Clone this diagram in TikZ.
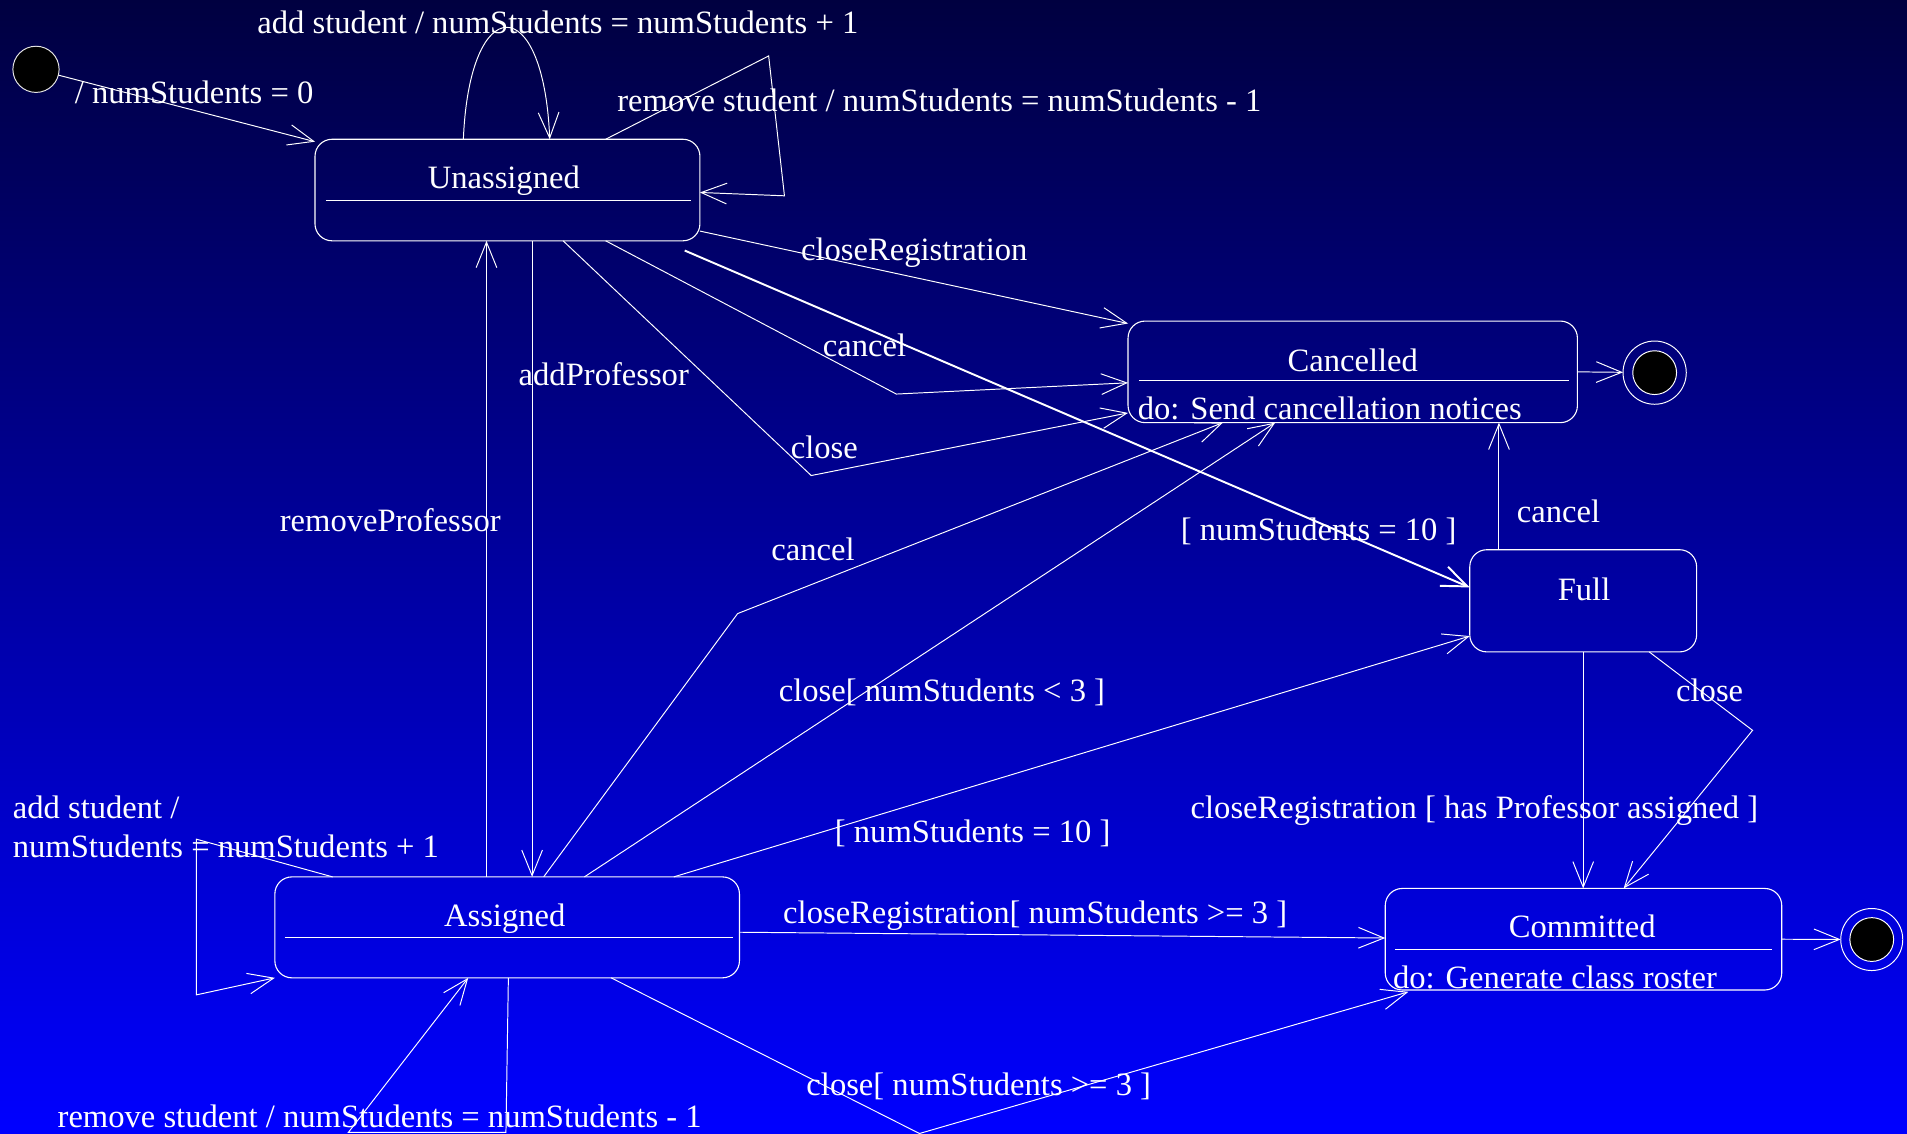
\documentclass[tikz,border=0pt]{standalone}
\usepackage{fontspec}
\setmainfont{Liberation Serif}
\usetikzlibrary{arrows.meta,calc}
\definecolor{bgtop}{RGB}{0,0,64}
\definecolor{bgbot}{RGB}{0,0,255}
\begin{document}
\begin{tikzpicture}[x=1pt,y=-1pt,
  font=\fontsize{26.8}{32}\selectfont,
  statebox/.style={draw=white,line width=0.9pt,rounded corners=14pt,inner sep=0pt,outer sep=0pt},
  title/.style={text=white,inner sep=0pt,anchor=base,yshift=-1.5pt},
  lbl/.style={text=white,inner sep=0pt,anchor=base west,yshift=-1.5pt},
  tr/.style={draw=white,line width=0.8pt,-{Straight Barb[length=21pt,width=17pt]}},
  divider/.style={draw=white,line width=0.9pt},
  pseudo/.style={circle,inner sep=0pt,outer sep=0pt,line width=0.8pt},
]
% background
\shade[top color=bgtop,bottom color=bgbot] (0,0) rectangle (1568,932);
\useasboundingbox (0,0) rectangle (1568,932);

% states
\node[statebox,minimum width=316.5pt,minimum height=83.5pt] (un) at (417.25,156.25) {};
\node[statebox,minimum width=369.5pt,minimum height=83.5pt] (ca) at (1112.25,305.75) {};
\node[statebox,minimum width=186.5pt,minimum height=84pt] (fu) at (1301.75,494) {};
\node[statebox,minimum width=382pt,minimum height=83pt] (as) at (417,762.5) {};
\node[statebox,minimum width=326pt,minimum height=83.5pt] (co) at (1302,772.25) {};

% compartments
\draw[divider] ($(un.north west)+(9,50)$) -- ($(un.north east)+(-7,50)$);
\draw[divider] ($(ca.north west)+(9,49)$) -- ($(ca.north east)+(-7,49)$);
\draw[divider] ($(as.north west)+(8,50)$) -- ($(as.north east)+(-5,50)$);
\draw[divider] ($(co.north west)+(8,50.5)$) -- ($(co.north east)+(-8,50.5)$);

% state names and activities
\node[title] (unT) at ($(un.north)+(-3,39)$) {Unassigned};
\node[title] (caT) at ($(ca.north)+(0,39.7)$) {Cancelled};
\node[title] (fuT) at ($(fu.north)+(0.7,40)$) {Full};
\node[title] (asT) at ($(as.north)+(-2,39.4)$) {Assigned};
\node[title] (coT) at ($(co.north)+(-1,39.2)$) {Committed};
\node[lbl] (caA) at ($(ca.south west)+(7.9,-4.3)$) {do: Send cancellation notices};
\node[lbl] (coA) at ($(co.south west)+(6.2,-2.7)$) {do: Generate class roster};

% pseudo states
\node[pseudo,fill=black,draw=white!80!gray,minimum size=38pt] (init) at (29.6,57) {};
\node[pseudo,draw=white,minimum size=52pt] (f1) at (1360.5,306.4) {};
\node[pseudo,fill=black,draw=white,minimum size=36pt] (f1in) at (f1) {};
\node[pseudo,draw=white,minimum size=51pt] (f2) at (1539,772.5) {};
\node[pseudo,fill=black,draw=white,minimum size=36pt] (f2in) at (f2) {};

% transitions out of Unassigned
\draw[tr] (init) -- ($(un.north west)+(0,2)$);
\draw[tr] ($(un.north west)+(122,0)$) .. controls +(5,-122.5) and +(-5,-122.5) .. ($(un.north west)+(193,0)$);
\draw[tr] ($(un.north west)+(239,0)$) -- (632,46) -- (645,161) -- ($(un.east)+(0,2)$);
\draw[tr] ($(un.south east)+(0,-8)$) -- ($(ca.north west)+(0,2)$);
\draw[tr] ($(un.south west)+(239,0)$) -- (737,324) -- ($(ca.west)+(0,9)$);
\draw[tr] ($(un.south west)+(204,0)$) -- (667,391) -- ($(ca.south west)+(0,-8)$);
\draw[tr,line width=1.6pt] ($(un.south west)+(304,8)$) -- ($(fu.west)+(0,-11)$);
\draw[tr] ($(un.south west)+(178.5,0)$) -- ($(as.north west)+(211.5,0)$);

% transitions out of Assigned
\draw[tr] ($(as.north west)+(174,0)$) -- ($(un.south west)+(141,0)$);
\draw[tr] ($(as.north west)+(221,0)$) -- (606.5,504.5) -- ($(ca.south west)+(78,0)$);
\draw[tr] ($(as.north west)+(254.5,0)$) -- ($(ca.south west)+(121,0)$);
\draw[tr] ($(as.north west)+(328,0)$) -- ($(fu.south west)+(0,-13)$);
\draw[tr] ($(as.north west)+(47.5,0)$) -- (161.5,690) -- (161.5,818) -- (as.south west);
\draw[tr] ($(as.south west)+(192,0)$) -- (416,931) -- (286.5,931) -- ($(as.south west)+(159,0)$);
\draw[tr] ($(as.east)+(0,4)$) -- ($(co.west)+(0,-1)$);
\draw[tr] ($(as.south west)+(276.5,0)$) -- (756,932) -- ($(co.south west)+(19,1.5)$);

% transitions out of Full
\coordinate (fuc) at ($(fu.north west)+(24,0)$);
\draw[tr] (fuc) -- (fuc |- ca.south);
\draw[tr] (fu.south) -- (fu.south |- co.north);
\draw[tr] ($(fu.south west)+(147.5,0)$) -- (1441,600.5) -- ($(co.north west)+(196,0)$);

% final transitions
\draw[tr] (ca.east) -- (f1);
\draw[tr] (co.east) -- (f2);

% transition labels
\node[lbl] (l1) at (211.5,26) {add student / numStudents = numStudents + 1};
\node[lbl] (l2) at (61.4,83.6) {/ numStudents = 0};
\node[lbl] (l3) at (507.4,90.5) {remove student / numStudents = numStudents - 1};
\node[lbl] (l4) at (658.5,212.4) {closeRegistration};
\node[lbl] (l5) at (676.4,292) {cancel};
\node[lbl] (l6) at (426.3,315.2) {addProfessor};
\node[lbl] (l7) at (650,375.5) {close};
\node[lbl] (l8) at (229.9,435.8) {removeProfessor};
\node[lbl] (l9) at (634,459) {cancel};
\node[lbl] (l10) at (1247,428) {cancel};
\node[lbl] (l11) at (970.8,442.6) {[ numStudents = 10 ]};
\node[lbl] (l12) at (640.2,575.6) {close[ numStudents < 3 ]};
\node[lbl] (l13) at (1378,575.6) {close};
\node[lbl] (l14) at (978.8,671.5) {closeRegistration [ has Professor assigned ]};
\node[lbl] (l15) at (686.3,691.3) {[ numStudents = 10 ]};
\node[lbl] (l16) at (643.8,757.9) {closeRegistration[ numStudents >= 3 ]};
\node[lbl] (l17) at (662.9,899) {close[ numStudents >= 3 ]};
\node[lbl] (l18) at (10.4,671.8) {add student /};
\node[lbl] (l19) at (10.4,703.7) {numStudents = numStudents + 1};
\node[lbl] (l20) at (47.2,925.5) {remove student / numStudents = numStudents - 1};
\end{tikzpicture}
\end{document}
